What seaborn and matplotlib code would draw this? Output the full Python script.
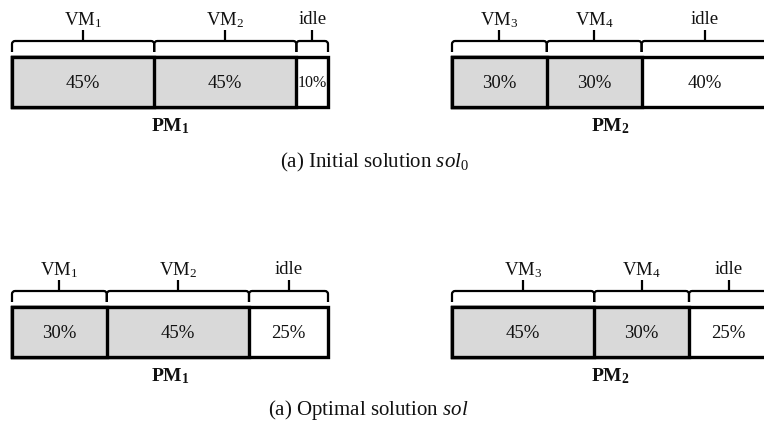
import numpy as np
import matplotlib
matplotlib.use("Agg")
import matplotlib.pyplot as plt
import seaborn as sns
from matplotlib.transforms import blended_transform_factory
from matplotlib.path import Path
from matplotlib.patches import PathPatch

# ---------------- data ----------------
pm_names = ["PM1", "PM2"]
pm1_segments = ["VM1", "VM2", "idle"]
pm2_segments = ["VM3", "VM4", "idle"]
initial_pm1 = [45, 45, 10]
initial_pm2 = [30, 30, 40]
optimal_pm1 = [30, 45, 25]
optimal_pm2 = [45, 30, 25]
captions = [r"(a) Initial solution $sol_{0}$", r"(a) Optimal solution $sol$"]

# ---------------- style ----------------
sns.set_theme(style="white")
plt.rcParams["font.family"] = ["Liberation Serif", "DejaVu Serif"]
plt.rcParams["mathtext.fontset"] = "custom"
plt.rcParams["mathtext.rm"] = "Liberation Serif"
plt.rcParams["mathtext.it"] = "Liberation Serif:italic"
plt.rcParams["mathtext.bf"] = "Liberation Serif:bold"

W, H = 764, 426
fig = plt.figure(figsize=(W / 100, H / 100), dpi=100)
fig.patch.set_facecolor("white")

overlay = fig.add_axes([0, 0, 1, 1])
overlay.set_xlim(0, W)
overlay.set_ylim(H, 0)
overlay.axis("off")
overlay.patch.set_alpha(0)

GREY = "#d9d9d9"
TXT = "#111111"


def seg_label(name, bold=False):
    letters = name.rstrip("0123456789")
    digits = name[len(letters):]
    if not digits:
        return name
    if bold:
        return r"$\mathbf{%s}_{\mathbf{%s}}$" % (letters, digits)
    return r"$\mathrm{%s}_{%s}$" % (letters, digits)


panels = [
    (0, 0, pm1_segments, initial_pm1, pm_names[0]),
    (0, 1, pm2_segments, initial_pm2, pm_names[1]),
    (1, 0, pm1_segments, optimal_pm1, pm_names[0]),
    (1, 1, pm2_segments, optimal_pm2, pm_names[1]),
]

box_w = 316
box_h = 50
row_gap = 250

for r, c, labels, vals, pm in panels:
    left = 12 if c == 0 else 452
    top = 57 + row_gap * r
    ax = fig.add_axes([left / W, 1 - (top + box_h) / H, box_w / W, box_h / H])
    ax.patch.set_alpha(0)
    cum = np.cumsum(vals)
    starts = cum - np.array(vals)
    # draw cumulative bars from longest to shortest so they layer as stacked segments
    for i in reversed(range(len(vals))):
        color = "white" if labels[i] == "idle" else GREY
        sns.barplot(x=[cum[i]], y=[0], orient="h", color=color, saturation=1,
                    edgecolor="black", linewidth=2.4, width=1.0, errorbar=None, ax=ax)
    for p in ax.patches:
        p.set_clip_on(False)
    ax.set_xlim(0, 100)
    ax.set_ylim(0.5, -0.5)
    ax.axis("off")

    for i, v in enumerate(vals):
        fs = 13.5 if v >= 15 else 11.5
        ax.text(starts[i] + v / 2, 0.02, f"{v}%", ha="center", va="center",
                fontsize=fs, color=TXT)

    trans = blended_transform_factory(ax.transData, overlay.transData)
    yh = 41 + row_gap * r
    yb = 52 + row_gap * r
    yt = 30 + row_gap * r
    for i, v in enumerate(vals):
        a, b = starts[i], cum[i]
        verts = [(a, yb), (a, yh + 3), (a, yh), (a + 1, yh), (b - 1, yh),
                 (b, yh), (b, yh + 3), (b, yb)]
        codes = [Path.MOVETO, Path.LINETO, Path.CURVE3, Path.CURVE3, Path.LINETO,
                 Path.CURVE3, Path.CURVE3, Path.LINETO]
        overlay.add_patch(PathPatch(Path(verts, codes), fill=False, lw=1.6,
                                    edgecolor="black", transform=trans,
                                    capstyle="butt", joinstyle="round"))
        mid = a + v / 2
        overlay.plot([mid, mid], [yh, yt], color="black", lw=1.6, transform=trans,
                     solid_capstyle="butt")
        overlay.text(mid, 20 + row_gap * r, seg_label(labels[i]), transform=trans,
                     ha="center", va="center", fontsize=13.5, color=TXT)

    overlay.text(50, 126 + row_gap * r, seg_label(pm, bold=True), transform=trans,
                 ha="center", va="center", fontsize=14, color=TXT)

overlay.text(374, 162, captions[0], ha="center", va="center", fontsize=15, color=TXT)
overlay.text(368, 410, captions[1], ha="center", va="center", fontsize=15, color=TXT)

fig.savefig("out.png", dpi=100, facecolor="white")
